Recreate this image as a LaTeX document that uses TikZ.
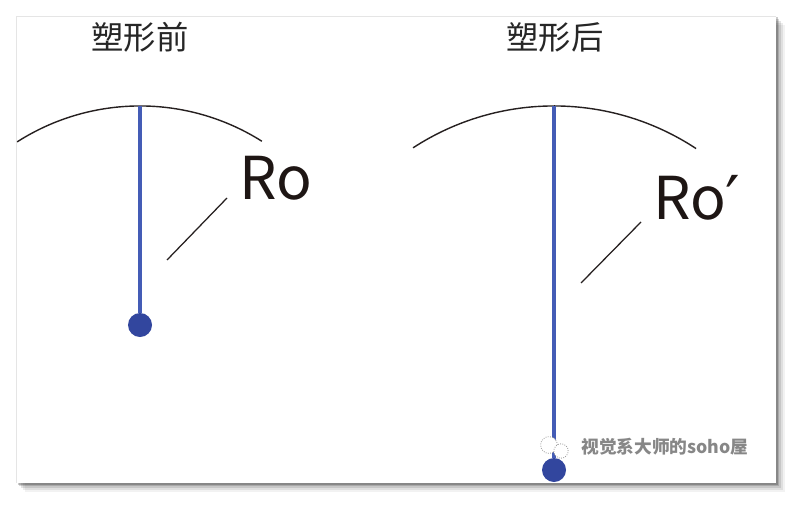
\documentclass[tikz,border=0pt]{standalone}
\usepackage{fontspec}
\setmainfont{Noto Sans CJK SC}
\newfontfamily\cjk{Noto Sans CJK SC}
\newfontfamily\primefont{DejaVu Sans}
\usetikzlibrary{positioning,calc}
\definecolor{rodblue}{RGB}{68,92,182}
\definecolor{bobblue}{RGB}{50,70,158}
\definecolor{arcgray}{RGB}{38,32,32}
\definecolor{inkblack}{RGB}{30,22,20}
\definecolor{markgray}{RGB}{135,135,135}
\tikzset{
  title/.style={font=\cjk\fontsize{23}{23}\selectfont, text=black!85},
  rod/.style={line width=2.7pt, rodblue},
  bob/.style={circle, fill=bobblue, inner sep=0pt, minimum size=0.6cm},
  arcline/.style={line width=1pt, arcgray},
  leader/.style={line width=0.9pt, arcgray},
  rolabel/.style={font=\cjk\fontsize{42}{42}\selectfont, text=inkblack, inner sep=0pt},
  wmark/.style={font=\cjk\bfseries\fontsize{12.6}{12.6}\selectfont, text=markgray, inner sep=0pt},
  bubble/.style={circle, draw=markgray!80, densely dotted, fill=white, inner sep=0pt, line width=0.6pt}
}
\begin{document}
\begin{tikzpicture}[x=0.025cm, y=-0.025cm]
  \useasboundingbox (0,0) rectangle (799,511);
  % card with its shadow
  \foreach \s/\o in {9/0.05,7/0.08,5/0.11,3/0.15,1.5/0.2} {
    \fill[black, opacity=\o] (16+\s,16+\s) rectangle (776+\s,483+\s);
  }
  \fill[white] (16,16) rectangle (776,483);
  \draw[black!10, line width=0.4pt] (16,483) -- (16,16) -- (776,16);

  % titles
  \node[title] (titleA) at (140,37) {塑形前};
  \node[title] (titleB) at (555,37) {塑形后};

  % before
  \coordinate (pivotA) at (140,106);
  \coordinate (centreA) at (140,334);
  \node[bob] (bobA) at (140,325) {};
  \draw[arcline] ([shift={(122.6:5.7cm)}]centreA) arc[start angle=122.6, end angle=57.7, radius=5.7cm];
  \draw[rod] (pivotA) -- (bobA);
  \node[rolabel, anchor=west] (roA) at (239,178) {Ro};
  \coordinate (legA) at (227,198);
  \coordinate (tipA) at (167,260);
  \draw[leader] (legA) -- (tipA);

  % after
  \coordinate (pivotB) at (554,106);
  \coordinate (centreB) at (554,364);
  \node[bob] (bobB) at (554,470) {};
  \draw[arcline] ([shift={(123.1:6.45cm)}]centreB) arc[start angle=123.1, end angle=56.6, radius=6.45cm];
  \draw[rod] (pivotB) -- (bobB);
  \node[rolabel, anchor=base west] (roB) at (653,220) {Ro{\primefont\fontsize{46}{46}\selectfont\raisebox{-0.04em}{′}}};
  \coordinate (legB) at (641,222);
  \coordinate (tipB) at (581,283);
  \draw[leader] (legB) -- (tipB);

  % watermark
  \node[bubble, minimum size=0.42cm] (bubbleBig) at (549,445) {};
  \node[bubble, minimum size=0.36cm] (bubbleSmall) at (561,451) {};
  \node[wmark, anchor=west] (markText) at (581,447) {视觉系大师的soho屋};
\end{tikzpicture}
\end{document}
